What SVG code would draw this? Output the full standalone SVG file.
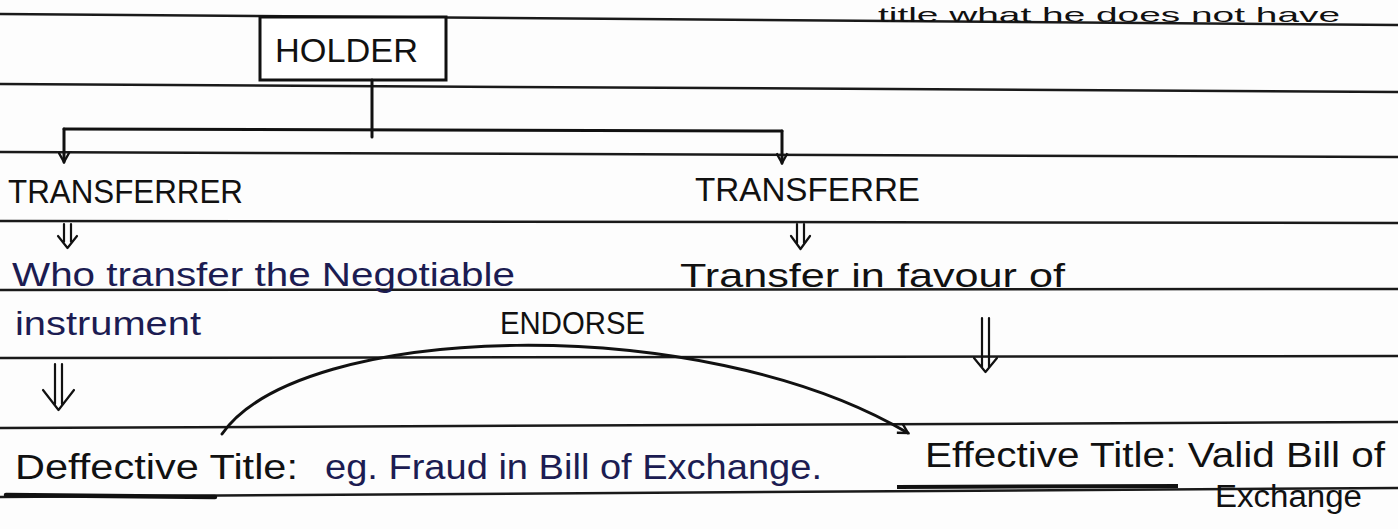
<svg xmlns="http://www.w3.org/2000/svg" width="1398" height="529" viewBox="0 0 1398 529">
<defs>
<style>
.rule{stroke:#1a1a1a;stroke-width:2.5;fill:none}
.conn{stroke:#111;stroke-width:3;fill:none;stroke-linecap:round;stroke-linejoin:round}
.t{font-family:"Liberation Sans","DejaVu Sans",sans-serif;fill:#111}
.b{fill:#1c1c52}
.box{fill:#fff;stroke:#111;stroke-width:3}
</style>
<marker id="v" viewBox="0 0 12 12" refX="10" refY="6" markerWidth="13" markerHeight="13" markerUnits="userSpaceOnUse" orient="auto">
<path d="M1,1 L10,6 L1,11" fill="none" stroke="#111" stroke-width="2.2"/>
</marker>
</defs>
<rect width="1398" height="529" fill="#fdfdfd"/>
<g id="paper">
<path class="rule" d="M0,14 L1398,25"/>
<path class="rule" d="M0,84 L1398,92"/>
<path class="rule" d="M0,152 L1398,157"/>
<path class="rule" d="M0,221 L1398,223"/>
<path class="rule" d="M0,290 L1398,289"/>
<path class="rule" d="M0,358 L1398,356"/>
<path class="rule" d="M0,428 L1398,422"/>
<path class="rule" d="M0,497 L1398,488"/>
<path d="M6,495 L215,497" stroke="#111" stroke-width="4.5" fill="none" stroke-linecap="round"/>
<path d="M897,487 L1178,486" stroke="#111" stroke-width="4" fill="none"/>
</g>
<g id="top-note"><text class="t" x="878" y="22" style="font-size:21px" textLength="462" lengthAdjust="spacingAndGlyphs">title what he does not have</text></g>
<g id="holder">
<rect class="box" x="260" y="17" width="186" height="63"/>
<text class="t" x="275" y="62" style="font-size:34px" textLength="143" lengthAdjust="spacingAndGlyphs">HOLDER</text>
</g>
<g id="transferrer"><text class="t" x="8" y="203" style="font-size:33px" textLength="235" lengthAdjust="spacingAndGlyphs">TRANSFERRER</text></g>
<g id="transferre"><text class="t" x="695" y="201" style="font-size:33px" textLength="225" lengthAdjust="spacingAndGlyphs">TRANSFERRE</text></g>
<g id="who-transfer">
<text class="t b" x="12" y="286" style="font-size:34px" textLength="503" lengthAdjust="spacingAndGlyphs">Who transfer the Negotiable</text>
<text class="t b" x="15" y="335" style="font-size:34px" textLength="186" lengthAdjust="spacingAndGlyphs">instrument</text>
</g>
<g id="transfer-favour"><text class="t" x="680" y="287" style="font-size:34px" textLength="385" lengthAdjust="spacingAndGlyphs">Transfer in favour of</text></g>
<g id="defective">
<text class="t" x="15" y="479" style="font-size:35px" textLength="283" lengthAdjust="spacingAndGlyphs">Deffective Title:</text>
<text class="t b" x="325" y="479" style="font-size:35px" textLength="497" lengthAdjust="spacingAndGlyphs">eg. Fraud in Bill of Exchange.</text>
</g>
<g id="effective">
<text class="t" x="925" y="467" style="font-size:35px" textLength="460" lengthAdjust="spacingAndGlyphs">Effective Title: Valid Bill of</text>
<text class="t" x="1215" y="507" style="font-size:31px" textLength="147" lengthAdjust="spacingAndGlyphs">Exchange</text>
</g>
<g id="connectors">
<path class="conn" d="M372,80 L372,137"/>
<path class="conn" d="M64,129 L782,131"/>
<path class="conn" d="M64,129 L64,162" marker-end="url(#v)"/>
<path class="conn" d="M782,131 L782,163" marker-end="url(#v)"/>
<g>
<path class="conn" style="stroke-width:2.2px" d="M64,224 L64,242 M71,224 L71,242 M58,236 L67.5,248 L77,236"/>
<path class="conn" style="stroke-width:2.2px" d="M797,224 L797,243 M804,224 L804,243 M791,236 L800.5,249 L810,236"/>
<path class="conn" style="stroke-width:2.2px" d="M982,318 L982,368 M989,318 L989,368 M974,358 L985.5,372 L997,358"/>
<path class="conn" style="stroke-width:2.2px" d="M55,364 L55,404 M62,364 L62,404 M43,390 L58.5,410 L74,390"/>
</g>
<path class="conn" d="M222,434 C300,322 700,310 908,433" marker-end="url(#v)"/>
<text class="t" x="500" y="334" style="font-size:31px" textLength="145" lengthAdjust="spacingAndGlyphs">ENDORSE</text>
</g>
</svg>
